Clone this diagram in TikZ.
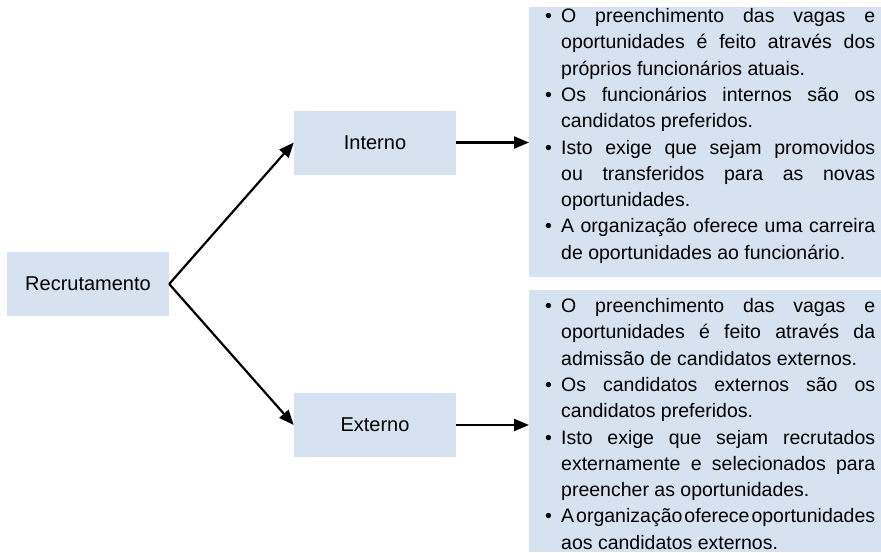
\documentclass[tikz,border=0pt]{standalone}
\usepackage{fontspec}
\setmainfont{Liberation Sans}
\usetikzlibrary{arrows.meta}
\definecolor{boxblue}{RGB}{214,226,239}
\newcommand\bitem{\par\noindent\hangindent=16pt\hangafter=1\makebox[16pt][l]{•}}
\newcommand\bulletsetup{\spaceskip=.278em plus .5em minus .25em\relax\hyphenpenalty=10000\relax\exhyphenpenalty=10000\relax}
\begin{document}
\begin{tikzpicture}[x=1pt,y=-1pt,
  box/.style={fill=boxblue, inner sep=0pt, draw=none},
  lbl/.style={box, minimum width=162pt, minimum height=64pt, font=\fontsize{20}{24}\selectfont},
  conn/.style={line width=2.2pt, -{Triangle[length=15pt,width=12pt]}},
  bullets/.style={anchor=north west, inner sep=0pt, text width=330pt, align=justify,
    font=\fontsize{19.5}{26.3}\selectfont}]
\useasboundingbox (0,0) rectangle (881,552);
\node[lbl] (rec) at (88,284) {Recrutamento};
\node[lbl] (int) at (375,142.5) {Interno};
\node[lbl] (ext) at (375,425) {Externo};
\node[box, anchor=north west, minimum width=352pt, minimum height=270pt] (t1) at (529,7) {};
\node[box, anchor=north west, minimum width=352pt, minimum height=262pt] (t2) at (529,290) {};
\node[bullets] (t1txt) at (545,-4) {\bulletsetup
\bitem O preenchimento das vagas e\linebreak oportunidades é feito através dos\linebreak próprios funcionários atuais.
\bitem Os funcionários internos são os\linebreak candidatos preferidos.
\bitem Isto exige que sejam promovidos\linebreak ou transferidos para as novas\linebreak oportunidades.
\bitem A organização oferece uma carreira\linebreak de oportunidades ao funcionário.\par};
\node[bullets] (t2txt) at (545,286) {\bulletsetup
\bitem O preenchimento das vagas e\linebreak oportunidades é feito através da\linebreak admissão de candidatos externos.
\bitem Os candidatos externos são os\linebreak candidatos preferidos.
\bitem Isto exige que sejam recrutados\linebreak externamente e selecionados para\linebreak preencher as oportunidades.
\bitem A organização oferece oportunidades\linebreak aos candidatos externos.\par};
\draw[conn] (rec.east) -- (int.west);
\draw[conn] (rec.east) -- (ext.west);
\draw[conn] (int.east) -- (int.east -| t1.west);
\draw[conn] (ext.east) -- (ext.east -| t2.west);
\end{tikzpicture}
\end{document}
